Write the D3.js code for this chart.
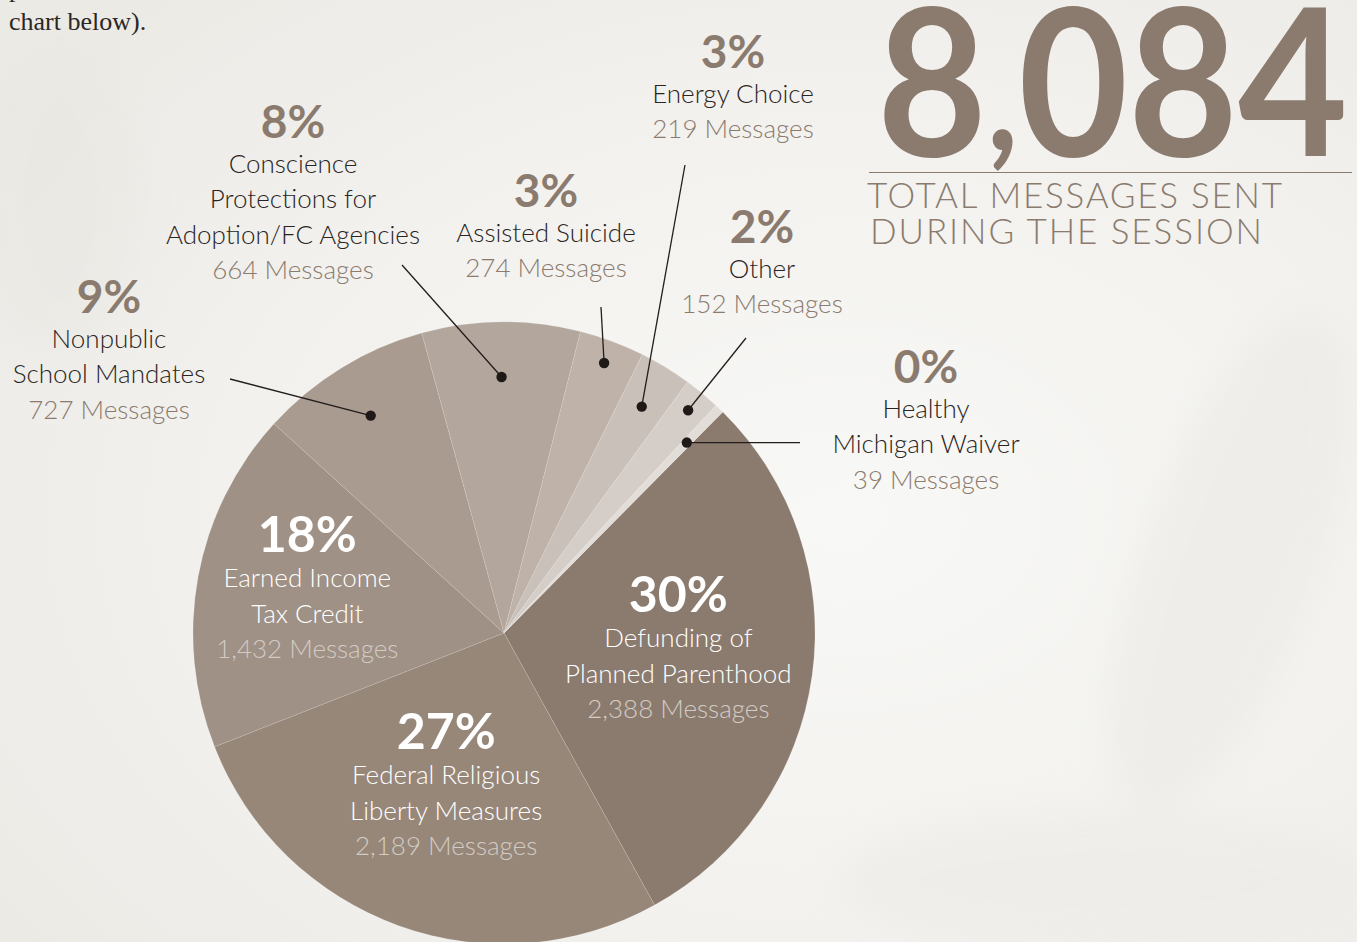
<!DOCTYPE html>
<html>
<head>
<meta charset="utf-8">
<script src="https://cdn.jsdelivr.net/npm/d3@7"></script>
<style>
  html, body { margin: 0; padding: 0; background: #f0efeb; overflow: hidden; }
  svg { display: block; }
</style>
</head>
<body>
<svg id="chart" width="1357" height="942"></svg>
<script>
// Messages sent per issue during the session
const categories = [
  "Defunding of Planned Parenthood",
  "Federal Religious Liberty Measures",
  "Earned Income Tax Credit",
  "Nonpublic School Mandates",
  "Conscience Protections for Adoption/FC Agencies",
  "Assisted Suicide",
  "Energy Choice",
  "Other",
  "Healthy Michigan Waiver"
];
const messageCounts = [2388, 2189, 1432, 727, 664, 274, 219, 152, 39];
const nameLines = [
  ["Defunding of", "Planned Parenthood"],
  ["Federal Religious", "Liberty Measures"],
  ["Earned Income", "Tax Credit"],
  ["Nonpublic", "School Mandates"],
  ["Conscience", "Protections for", "Adoption/FC Agencies"],
  ["Assisted Suicide"],
  ["Energy Choice"],
  ["Other"],
  ["Healthy", "Michigan Waiver"]
];
const sliceColors = ["#8b7b6e", "#978779", "#9f9185", "#a99b90", "#b3a69c",
                     "#beb2a9", "#c9c0b9", "#d5cdc7", "#e3ddd8"];
const totalParts = ["8", ",", "084"];
const totalCaption = ["TOTAL MESSAGES SENT", "DURING THE SESSION"];

// Label placement: inside labels sit on the slice bisector; outside labels
// are set in free space with a leader line ending at a dot on the slice.
const labelLayout = [
  { inside: true, r: 176 },
  { inside: true, r: 171 },
  { inside: true, r: 200 },
  { x: 109, y: 313, dotR: 255, lineEnd: [230, 379] },
  { x: 293, y: 138, dotR: 256, lineEnd: [402, 265] },
  { x: 546, y: 207, dotR: 288, lineEnd: [601, 307] },
  { x: 733, y: 68,  dotR: 265, lineEnd: [685, 165] },
  { x: 762, y: 243, dotR: 289, lineEnd: [746, 338] },
  { x: 926, y: 383, dotR: 264, lineEnd: [800, null] }
];

const sans = "Lato, 'Noto Sans', sans-serif";
const serif = "'Liberation Serif', 'DejaVu Serif', serif";

const svg = d3.select("#chart");
const W = 1357, H = 942;

// soft, washed-out backdrop
const defs = svg.append("defs");
const bg = defs.append("radialGradient").attr("id", "bgGrad")
  .attr("cx", "0.62").attr("cy", "0.55").attr("r", "0.75");
bg.append("stop").attr("offset", "0").attr("stop-color", "#f8f8f6");
bg.append("stop").attr("offset", "0.6").attr("stop-color", "#f2f1ee");
bg.append("stop").attr("offset", "1").attr("stop-color", "#ebeae5");
defs.append("filter").attr("id", "soft")
  .append("feGaussianBlur").attr("stdDeviation", 18);

svg.append("rect").attr("width", W).attr("height", H).attr("fill", "url(#bgGrad)");
const haze = svg.append("g").attr("filter", "url(#soft)").attr("opacity", 0.5);
haze.append("ellipse").attr("cx", 1230).attr("cy", 560).attr("rx", 90).attr("ry", 260)
  .attr("fill", "#e9e8e3").attr("transform", "rotate(20,1230,560)");
haze.append("ellipse").attr("cx", 60).attr("cy", 200).attr("rx", 80).attr("ry", 150)
  .attr("fill", "#e8e7e2");
haze.append("ellipse").attr("cx", 1100).attr("cy", 880).attr("rx", 260).attr("ry", 70)
  .attr("fill", "#ebeae6");

// intro text running off the top of the page
svg.append("text").attr("x", 9).attr("y", -3)
  .style("font-family", serif).style("font-size", "26px")
  .attr("fill", "#2b2725").text("p");
svg.append("text").attr("x", 9).attr("y", 30)
  .style("font-family", serif).style("font-size", "26px")
  .attr("fill", "#2b2725").text("chart below).");

// pie
const cx = 504, cy = 633, R = 311;
const startA = 44.7 * Math.PI / 180;
const pie = d3.pie().sort(null).value(d => d.value)
  .startAngle(startA).endAngle(startA + 2 * Math.PI);
const data = categories.map((c, i) => ({
  name: c, value: messageCounts[i], lines: nameLines[i],
  color: sliceColors[i], layout: labelLayout[i]
}));
const arcs = pie(data);
const total = d3.sum(messageCounts);
const pct = v => Math.round(v / total * 100) + "%";
const fmt = d3.format(",");
const arc = d3.arc().innerRadius(0).outerRadius(R);

const g = svg.append("g").attr("transform", `translate(${cx},${cy})`);
g.selectAll("path.slice").data(arcs).join("path")
  .attr("class", "slice")
  .attr("d", arc)
  .attr("fill", d => d.data.color)
  .attr("stroke", "rgba(255,255,255,0.16)")
  .attr("stroke-width", 0.8);

const lineGap = 35.5;
const accent = "#8b7b6e";

function label(sel, x, y, txt, size, weight, color) {
  return sel.append("text").attr("x", x).attr("y", y).attr("text-anchor", "middle")
    .style("font-family", sans).style("font-size", size + "px")
    .style("font-weight", weight).attr("fill", color).text(txt);
}

// labels inside the large slices
arcs.filter(a => a.data.layout.inside).forEach(a => {
  const lr = a.data.layout.r;
  const [px, py] = d3.arc().innerRadius(lr).outerRadius(lr).centroid(a);
  const n = a.data.lines.length + 2;
  const top = py - (n - 1) * lineGap / 2 + 8;
  const t = g.append("g");
  label(t, px, top, pct(a.data.value), 50, 700, "#ffffff");
  a.data.lines.forEach((ln, k) => label(t, px, top + lineGap * (k + 1), ln, 26, 300, "#ffffff"));
  label(t, px, top + lineGap * (a.data.lines.length + 1),
        fmt(a.data.value) + " Messages", 26, 300, "#d3cbc5");
});

// labels outside the small slices, with leaders
arcs.filter(a => !a.data.layout.inside).forEach(a => {
  const L = a.data.layout;
  const [dx, dy] = d3.arc().innerRadius(L.dotR).outerRadius(L.dotR).centroid(a);
  const ex = L.lineEnd[0] - cx;
  const ey = (L.lineEnd[1] == null ? dy + cy : L.lineEnd[1]) - cy;
  g.append("line").attr("x1", dx).attr("y1", dy).attr("x2", ex).attr("y2", ey)
    .attr("stroke", "#231e1c").attr("stroke-width", 1.3);
  g.append("circle").attr("cx", dx).attr("cy", dy).attr("r", 5.2).attr("fill", "#1f1a18");

  const t = svg.append("g");
  label(t, L.x, L.y, pct(a.data.value), 46, 700, accent);
  a.data.lines.forEach((ln, k) => label(t, L.x, L.y + 34.5 + lineGap * k, ln, 26, 300, "#2a2523"));
  label(t, L.x, L.y + 34.5 + lineGap * a.data.lines.length,
        fmt(a.data.value) + " Messages", 26, 300, accent);
});

// headline total: digits with a raised comma, fitted to its box
const bigG = svg.append("g");
const big = bigG.append("text").attr("x", 0).attr("y", 156)
  .style("font-family", sans).style("font-size", "206px").style("font-weight", 700)
  .attr("fill", accent);
big.append("tspan").text(totalParts[0]);
big.append("tspan").attr("dy", -6).style("font-size", "145px").text(totalParts[1]);
big.append("tspan").attr("dy", 6).text(totalParts[2]);
const bb = big.node().getBBox();
const sx = (1348 - 877) / bb.width;
bigG.attr("transform", `translate(${877 - bb.x * sx},0) scale(${sx},1)`);

svg.append("line").attr("x1", 869).attr("x2", 1352).attr("y1", 172.5).attr("y2", 172.5)
  .attr("stroke", accent).attr("stroke-width", 1);
svg.append("text").attr("x", 867).attr("y", 208)
  .style("font-family", sans).style("font-size", "35px").style("font-weight", 300)
  .attr("fill", accent)
  .attr("textLength", 415).attr("lengthAdjust", "spacing")
  .text(totalCaption[0]);
svg.append("text").attr("x", 870).attr("y", 244)
  .style("font-family", sans).style("font-size", "35px").style("font-weight", 300)
  .attr("fill", accent)
  .attr("textLength", 392).attr("lengthAdjust", "spacing")
  .text(totalCaption[1]);
</script>
</body>
</html>
